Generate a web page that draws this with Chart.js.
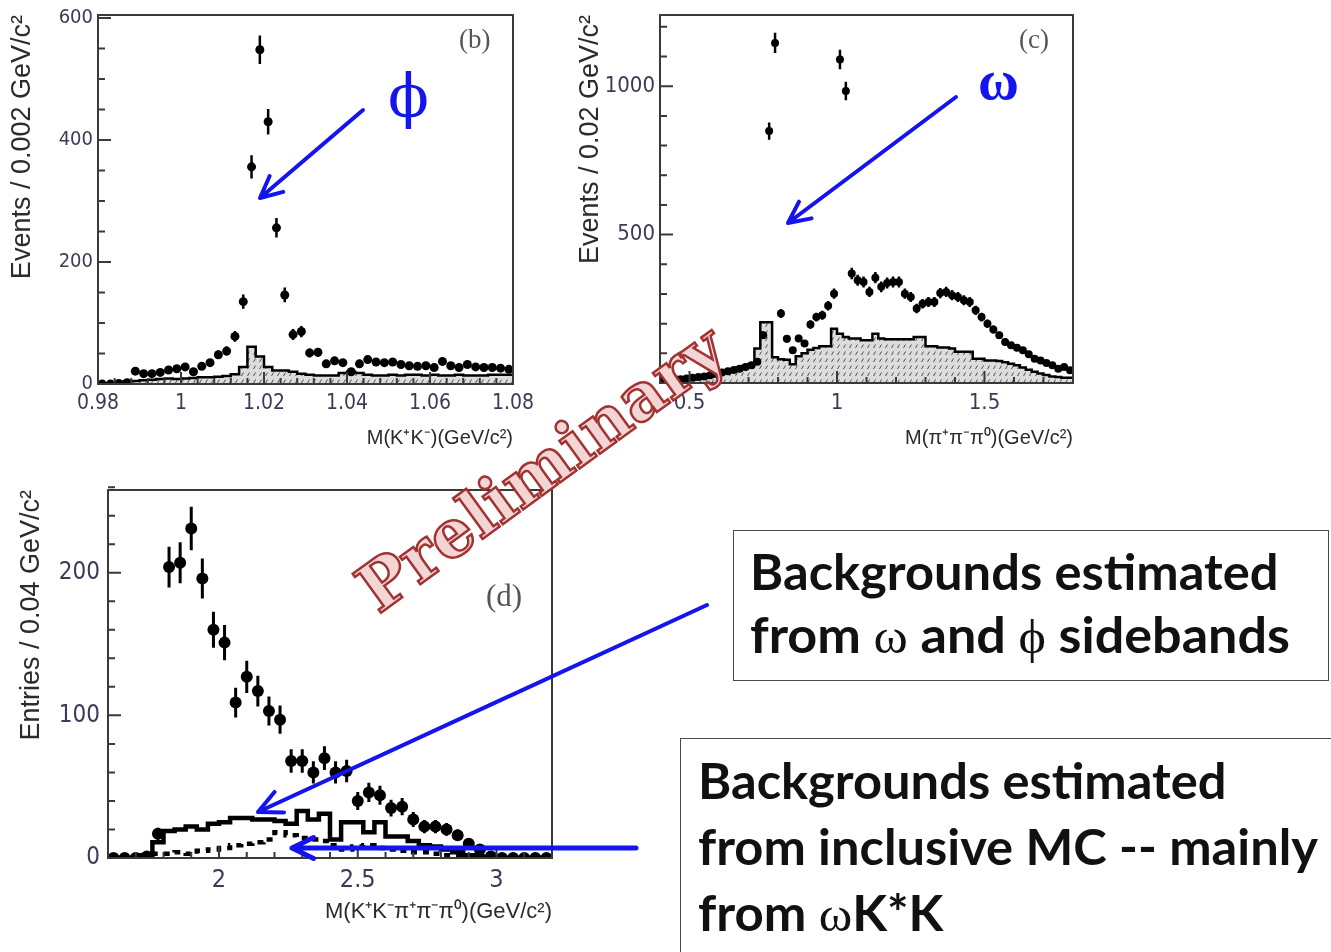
<!DOCTYPE html>
<html>
<head>
<meta charset="utf-8">
<script src="https://cdn.jsdelivr.net/npm/chart.js@4.4.1/dist/chart.umd.min.js"></script>
<style>
  html, body { margin: 0; padding: 0; background: #fff; }
  body { position: relative; width: 1331px; height: 952px; overflow: hidden; }
  .panel { position: absolute; }
  .tag { position: absolute; font-family: 'Liberation Serif', 'Times New Roman', serif; color: #555; }
  .greek { position: absolute; color: #1414ee; font-family: 'DejaVu Serif', serif; line-height: 1; }
  .box { position: absolute; background: #fff; border: 1.5px solid #4a4a4a; }
  .line { position: absolute; left: 0; white-space: nowrap; font-family: Lato, 'Open Sans', sans-serif;
          font-weight: 700; font-size: 49px; line-height: 60px; color: #111; transform-origin: 0 0; }
  .line .gr { font-family: 'Liberation Serif', serif; font-weight: 400; }
  #prelim { position: absolute; left: 541px; top: 468px; transform: translate(-50%, -50%) rotate(-36deg);
            font: bold 66px 'DejaVu Serif', serif; color: #f2d6d6; -webkit-text-stroke: 2.5px #a33232;
            white-space: nowrap; }
  svg { position: absolute; left: 0; top: 0; }
</style>
</head>
<body>

<div class="panel" style="left:0;top:0"><canvas id="chart-kk" width="560" height="455"></canvas></div>
<div class="panel" style="left:560px;top:0"><canvas id="chart-3pi" width="560" height="455"></canvas></div>
<div class="panel" style="left:0;top:470px"><canvas id="chart-kk3pi" width="600" height="460"></canvas></div>

<div class="tag" style="left:459px;top:24px;font-size:27px">(b)</div>
<div class="tag" style="left:1019px;top:24px;font-size:27px">(c)</div>
<div class="tag" style="left:486px;top:578px;font-size:31px">(d)</div>

<div class="greek" style="left:388px;top:66px;font-size:60px">ϕ</div>
<div class="greek" style="left:978px;top:52px;font-size:56px;font-weight:bold;font-family:'Liberation Serif',serif">ω</div>

<div class="box" style="left:733px;top:530px;width:594px;height:149px">
  <div class="line" data-w="528" style="top:10px;left:16px">Backgrounds estimated</div>
  <div class="line" data-w="540" style="top:73px;left:16px">from <span class="gr">ω</span> and <span class="gr">ϕ</span> sidebands</div>
</div>
<div class="box" style="left:680px;top:738px;width:700px;height:260px">
  <div class="line" data-w="528" style="top:11px;left:17px">Backgrounds estimated</div>
  <div class="line" data-w="620" style="top:77px;left:17px">from inclusive MC -- mainly</div>
  <div class="line" data-w="246" style="top:143px;left:17px">from <span class="gr">ω</span>K*K</div>
</div>

<svg id="arrows" width="1331" height="952"></svg>

<div id="prelim">Preliminary</div>

<script>
// ---- (b) M(K+K-) : 0.002 GeV/c2 bins starting at 0.98
const kkLow = 0.98;
const kkBin = 0.002;
const kkEvents = [0, 0, 1, 2, 21, 17, 17, 19, 23, 25,
                  28, 20, 29, 35, 48, 54, 78, 135, 356, 548,
                  430, 256, 146, 81, 86, 51, 52, 33, 38, 35,
                  20, 33, 40, 36, 35, 36, 32, 30, 29, 30,
                  27, 37, 30, 27, 32, 28, 27, 27, 26, 24];
const kkBkg = [0, 0, 1, 3, 4, 5, 6, 7, 8, 9,
               8, 9, 10, 11, 11, 12, 13, 16, 28, 61,
               45, 28, 22, 22, 20, 17, 15, 14, 14, 14,
               18, 20, 18, 15, 14, 14, 15, 14, 15, 15,
               14, 15, 14, 14, 15, 14, 14, 14, 15, 15];
const kkXTicks = [0.98, 1, 1.02, 1.04, 1.06, 1.08];
const kkYTicks = [0, 200, 400, 600];

// ---- (c) M(pi+pi-pi0) : 0.02 GeV/c2 bins starting at 0.4
const pppLow = 0.4;
const pppBin = 0.02;
const pppEvents = [15, 12, 14, 13, 15, 18, 20, 22, 26, 30,
                   35, 40, 44, 48, 54, 60, 72, 161, 849, 1146,
                   234, 149, 110, 150, 133, 197, 222, 228, 260, 301,
                   1090, 984, 369, 346, 340, 307, 355, 324, 337, 340,
                   340, 301, 290, 251, 267, 273, 273, 303, 307, 296,
                   290, 279, 273, 245, 222, 200, 180, 161, 138, 127,
                   119, 110, 97, 82, 76, 67, 60, 48, 54, 43];
const pppBkg = [5, 6, 7, 8, 9, 10, 12, 14, 18, 22,
                28, 34, 40, 46, 52, 58, 64, 116, 205, 205,
                87, 80, 78, 63, 90, 100, 112, 118, 124, 124,
                183, 166, 155, 150, 150, 144, 144, 166, 150, 147,
                147, 147, 147, 147, 155, 155, 124, 124, 120, 120,
                116, 105, 105, 105, 82, 82, 76, 76, 74, 70,
                65, 60, 52, 45, 38, 32, 27, 22, 20, 18];
const pppXTicks = [0.5, 1, 1.5];
const pppYTicks = [500, 1000];

// ---- (d) M(K+K-pi+pi-pi0) : 0.04 GeV/c2 bins starting at 1.6
const fullLow = 1.6;
const fullBin = 0.04;
const fullEntries = [0, 0, 0, 1, 17, 204, 207, 231, 196, 160,
                     151, 109, 127, 117, 103, 97, 68, 68, 60, 70,
                     60, 61, 40, 46, 44, 35, 36, 27, 22, 22,
                     20, 16, 10, 6, 1, 0, 0, 0, 0, 0];
const fullSideband = [0, 0, 0, 0, 2, 11, 19, 20, 22, 20,
                      24, 25, 28, 28, 27, 27, 26, 24, 33, 27,
                      31, 13, 25, 25, 18, 25, 15, 15, 12, 9,
                      8, 6, 4, 2, 1, 0, 0, 0, 0, 0];
const fullInclMC = [0, 0, 0, 0, 1, 3, 3, 4, 3, 5,
                    6, 7, 9, 10, 11, 13, 18, 16, 14, 13,
                    12, 9, 6, 8, 9, 7, 6, 5, 4, 4,
                    3, 2, 2, 1, 1, 0, 0, 0, 0, 0];
const fullXTicks = [2, 2.5, 3];
const fullYTicks = [0, 100, 200];

const narrow = "'DejaVu Sans Condensed', 'Liberation Sans', Arial, sans-serif";
const helv = "'Liberation Sans', Arial, sans-serif";
const tickInk = '#3b3b58';
const titleInk = '#2b2b2b';

// bin centres for the data points
function centres(lo, w, vals) {
    return vals.map((v, i) => ({ x: lo + (i + 0.5) * w, y: v }));
}
// bin edges for a stepped histogram outline
function edges(lo, w, vals) {
    const pts = vals.map((v, i) => ({ x: lo + i * w, y: v }));
    pts.push({ x: lo + vals.length * w, y: vals[vals.length - 1] });
    return pts;
}

function hatch() {
    const c = document.createElement('canvas');
    c.width = 6; c.height = 7;
    const g = c.getContext('2d');
    g.fillStyle = '#dcdcdc';
    g.fillRect(0, 0, 6, 7);
    g.strokeStyle = '#505050';
    g.lineWidth = 1;
    g.beginPath();
    g.moveTo(1.5, 5); g.lineTo(3.5, 1.5);
    g.stroke();
    return g.createPattern(c, 'repeat');
}

// ROOT-like frame: full box, ticks pointing inwards on the x and y axes
const rootFrame = {
    id: 'rootFrame',
    afterDatasetsDraw(chart, args, o) {
        const { ctx, chartArea: a, scales: { x, y } } = chart;
        ctx.save();
        ctx.strokeStyle = '#3a3a3a';
        ctx.lineWidth = 2;
        ctx.beginPath();
        const ticks = (scale, start, step, len, horiz) => {
            const n = Math.round((scale.max - start) / step);
            for (let k = 0; k <= n; k++) {
                const p = scale.getPixelForValue(start + k * step);
                if (horiz) { ctx.moveTo(p, a.bottom); ctx.lineTo(p, a.bottom - len); }
                else { ctx.moveTo(a.left, p); ctx.lineTo(a.left + len, p); }
            }
        };
        ticks(x, o.xMinor[0], o.xMinor[1], 6, true);
        ticks(x, o.xMajor[0], o.xMajor[1], 12, true);
        ticks(y, o.yMinor[0], o.yMinor[1], 7, false);
        ticks(y, o.yMajor[0], o.yMajor[1], 13, false);
        ctx.stroke();
        ctx.strokeRect(a.left, a.top, a.right - a.left, a.bottom - a.top);
        ctx.restore();
    }
};

// Poisson error bars on the data points
const errorBars = {
    id: 'errorBars',
    afterDatasetsDraw(chart) {
        const { ctx, scales: { y } } = chart;
        chart.data.datasets.forEach((ds, i) => {
            if (!ds.errorBars) return;
            const meta = chart.getDatasetMeta(i);
            ctx.save();
            ctx.strokeStyle = '#000';
            ctx.lineWidth = ds.errorWidth;
            ctx.beginPath();
            meta.data.forEach((pt, j) => {
                const v = ds.data[j].y;
                const e = Math.sqrt(v);
                ctx.moveTo(pt.x, y.getPixelForValue(v - e));
                ctx.lineTo(pt.x, y.getPixelForValue(v + e));
            });
            ctx.stroke();
            ctx.restore();
        });
    }
};

const fmt = v => String(+v.toFixed(3));

function panel(id, o) {
    return new Chart(document.getElementById(id), {
        type: 'line',
        data: { datasets: o.datasets },
        options: {
            responsive: false,
            animation: false,
            events: [],
            layout: { padding: o.padding },
            plugins: { legend: { display: false }, tooltip: { enabled: false }, rootFrame: o.frame },
            scales: {
                x: {
                    type: 'linear', min: o.x.min, max: o.x.max,
                    grid: { display: false, drawTicks: false }, border: { display: false },
                    ticks: { color: tickInk, font: { family: narrow, size: o.x.size }, padding: o.x.pad,
                             maxRotation: 0, autoSkip: false, callback: fmt },
                    afterBuildTicks: s => { s.ticks = o.x.ticks.map(v => ({ value: v })); },
                    afterFit: s => { s.height = o.x.height; s.paddingLeft = 0; s.paddingRight = 0; },
                    title: { display: true, text: o.x.title, align: 'end', color: titleInk,
                             font: { family: helv, size: o.x.titleSize }, padding: { top: 0, bottom: o.x.titlePad } }
                },
                y: {
                    type: 'linear', min: o.y.min, max: o.y.max,
                    grid: { display: false, drawTicks: false }, border: { display: false },
                    ticks: { color: tickInk, font: { family: narrow, size: o.y.size }, padding: o.y.pad, callback: fmt },
                    afterBuildTicks: s => { s.ticks = o.y.ticks.map(v => ({ value: v })); },
                    afterFit: s => { s.width = o.y.width; s.paddingTop = 0; s.paddingBottom = 0; },
                    title: { display: true, text: o.y.title, align: 'end', color: titleInk,
                             font: { family: helv, size: o.y.titleSize }, padding: { top: o.y.titlePad, bottom: 0 } }
                }
            }
        },
        plugins: [errorBars, rootFrame]
    });
}

function points(data, r, bar) {
    return { data, order: 0, showLine: false, pointRadius: r, pointBackgroundColor: '#000',
             pointBorderWidth: 0, errorBars: true, errorWidth: bar };
}
function histo(data, width, fill, dash) {
    return { data, order: 1, stepped: 'after', borderColor: '#000', borderWidth: width,
             borderDash: dash || [], pointRadius: 0, fill: fill ? 'origin' : false,
             backgroundColor: fill || 'transparent' };
}

const pattern = hatch();

panel('chart-kk', {
    padding: { top: 15, right: 47, left: 0, bottom: 0 },
    datasets: [
        points(centres(kkLow, kkBin, kkEvents), 4.5, 2.5),
        histo(edges(kkLow, kkBin, kkBkg), 2.5, pattern)
    ],
    x: { min: 0.98, max: 1.08, ticks: kkXTicks, size: 21, pad: 7, height: 71,
         title: 'M(K⁺K⁻)(GeV/c²)', titleSize: 20, titlePad: 5 },
    y: { min: 0, max: 605, ticks: kkYTicks, size: 20, pad: 5, width: 98,
         title: 'Events / 0.002 GeV/c²', titleSize: 27, titlePad: 6 },
    frame: { xMajor: [0.98, 0.02], xMinor: [0.98, 0.004], yMajor: [0, 200], yMinor: [0, 50] }
});

panel('chart-3pi', {
    padding: { top: 15, right: 47, left: 0, bottom: 0 },
    datasets: [
        points(centres(pppLow, pppBin, pppEvents), 4, 2.5),
        histo(edges(pppLow, pppBin, pppBkg), 2.5, pattern)
    ],
    x: { min: 0.4, max: 1.8, ticks: pppXTicks, size: 22, pad: 7, height: 72,
         title: 'M(π⁺π⁻π⁰)(GeV/c²)', titleSize: 20, titlePad: 5 },
    y: { min: 0, max: 1240, ticks: pppYTicks, size: 22, pad: 5, width: 100,
         title: 'Events / 0.02 GeV/c²', titleSize: 27, titlePad: 14 },
    frame: { xMajor: [0.5, 0.5], xMinor: [0.4, 0.1], yMajor: [0, 500], yMinor: [0, 100] }
});

panel('chart-kk3pi', {
    padding: { top: 20, right: 48, left: 0, bottom: 0 },
    datasets: [
        points(centres(fullLow, fullBin, fullEntries), 6, 3),
        histo(edges(fullLow, fullBin, fullSideband), 4.5),
        histo(edges(fullLow, fullBin, fullInclMC), 4.5, null, [6, 6])
    ],
    x: { min: 1.6, max: 3.2, ticks: fullXTicks, size: 25, pad: 7, height: 72,
         title: 'M(K⁺K⁻π⁺π⁻π⁰)(GeV/c²)', titleSize: 22, titlePad: 5 },
    y: { min: 0, max: 258, ticks: fullYTicks, size: 24, pad: 8, width: 108,
         title: 'Entries / 0.04 GeV/c²', titleSize: 27, titlePad: 15 },
    frame: { xMajor: [2, 0.5], xMinor: [1.6, 0.1], yMajor: [0, 100], yMinor: [0, 20] }
});

// blue annotation arrows
(function () {
    const svg = document.getElementById('arrows');
    const ns = 'http://www.w3.org/2000/svg';
    function arrow(x1, y1, x2, y2, w, head) {
        const ang = Math.atan2(y1 - y2, x1 - x2);
        const a1 = ang + 0.45, a2 = ang - 0.45;
        const d = `M${x1},${y1} L${x2},${y2} M${x2 + head * Math.cos(a1)},${y2 + head * Math.sin(a1)} ` +
                  `L${x2},${y2} L${x2 + head * Math.cos(a2)},${y2 + head * Math.sin(a2)}`;
        const p = document.createElementNS(ns, 'path');
        p.setAttribute('d', d);
        p.setAttribute('stroke', '#1414ee');
        p.setAttribute('stroke-width', w);
        p.setAttribute('fill', 'none');
        p.setAttribute('stroke-linecap', 'round');
        p.setAttribute('stroke-linejoin', 'round');
        svg.appendChild(p);
    }
    arrow(363, 110, 260, 198, 4, 24);
    arrow(956, 97, 788, 223, 4, 24);
    arrow(707, 605, 258, 812, 4, 26);
    arrow(636, 848, 292, 848, 5, 24);
})();

// squeeze the box lines to the column width they occupy
document.querySelectorAll('.line').forEach(el => {
    const w = +el.dataset.w;
    el.style.transform = `scaleX(${w / el.scrollWidth})`;
});
</script>
</body>
</html>
